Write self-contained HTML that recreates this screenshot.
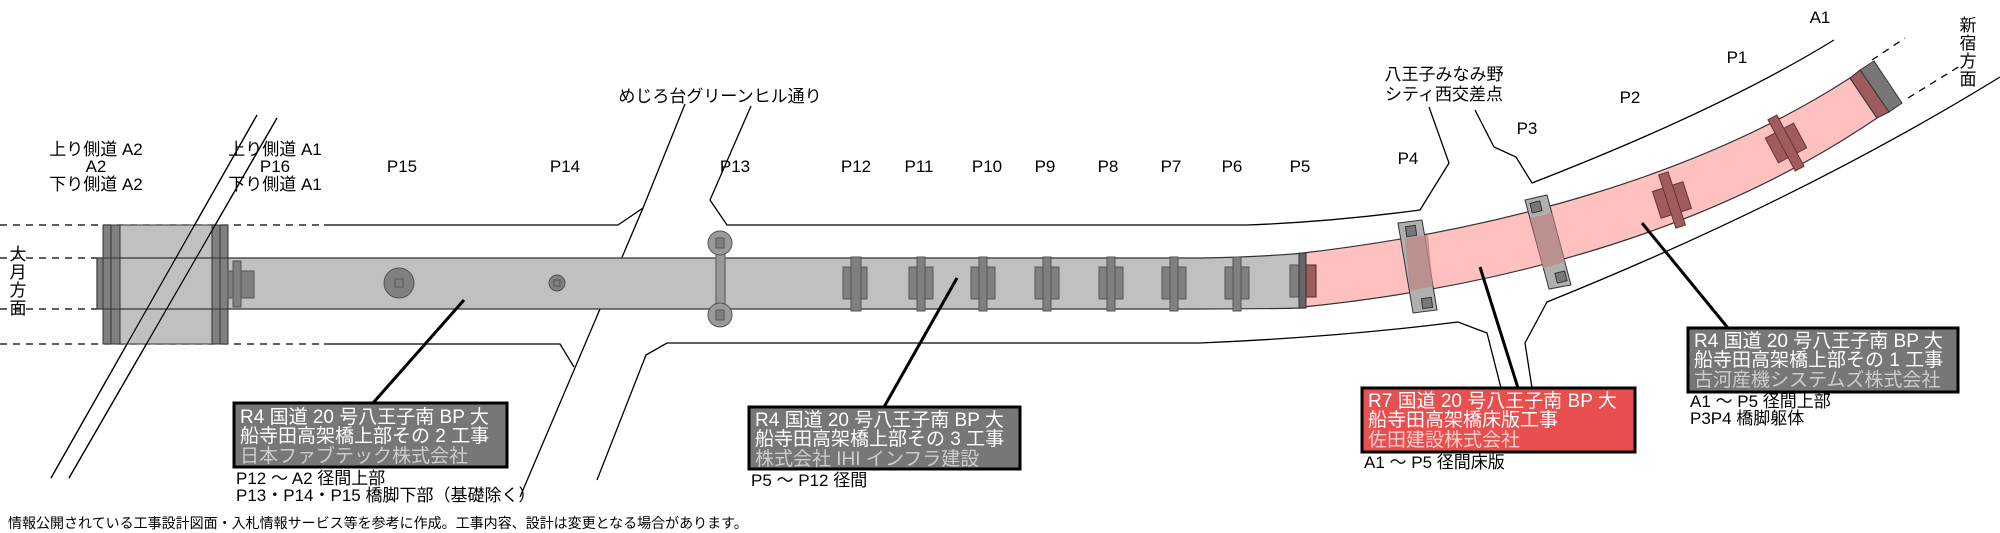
<!DOCTYPE html>
<html><head><meta charset="utf-8"><style>
html,body{margin:0;padding:0;background:#fff;}
svg{display:block;font-family:"Liberation Sans","Noto Sans CJK JP",sans-serif;}
</style></head><body>
<svg width="2000" height="533" viewBox="0 0 2000 533" xmlns="http://www.w3.org/2000/svg">
<g fill="none" stroke="#000" stroke-width="1.3">
<g stroke-dasharray="7,6">
<line x1="0" y1="225" x2="324" y2="225"/><line x1="0" y1="344" x2="324" y2="344"/>
<line x1="0" y1="258" x2="97" y2="258"/><line x1="0" y1="309" x2="97" y2="309"/>
<line x1="1872" y1="60" x2="1905" y2="38"/><line x1="1908" y1="98" x2="1960" y2="66"/>
</g>
<polyline points="324,225 618,225 643,208"/>
<polyline points="324,344 560,344 574,367"/>
<path d="M597 480 L646 355 L667 343 L1200 343 Q1340 337 1458 322 L1487 333 L1501 388"/>
<polyline points="685,104 643,208 520,497"/>
<polyline points="751,106 710,200 727,225 1150,225"/>
<path d="M1150 225 L1246 225 Q1330 222 1420 210 L1449 163 L1429 107"/>
<path d="M1475 110 L1494 147 L1516 157 L1532 183 Q1720 110 1834 40"/>
<path d="M1532 388 L1525 343 L1547 302 Q1800 200 2000 77"/>
<line x1="257" y1="115" x2="51" y2="478"/>
<line x1="277" y1="118" x2="69" y2="478"/>
</g>
<rect x="103" y="225" width="125" height="119" fill="#c0c0c0" stroke="#333" stroke-width="1"/>
<path d="M97 258 L1200 258 Q1260 257 1305 253 L1305 308 Q1260 309 1200 309 L97 309 Z" fill="#c0c0c0" stroke="#333" stroke-width="1.2"/>
<rect x="103" y="225" width="17" height="119" fill="#808080" stroke="#333"/>
<line x1="111" y1="225" x2="111" y2="344" stroke="#333"/>
<rect x="212" y="225" width="16" height="119" fill="#808080" stroke="#333"/>
<line x1="220" y1="225" x2="220" y2="344" stroke="#333"/>
<line x1="97" y1="258" x2="228" y2="258" stroke="#333"/><line x1="97" y1="309" x2="228" y2="309" stroke="#333"/>
<rect x="97" y="258" width="6" height="51" fill="#808080" stroke="#333"/>
<line x1="257" y1="115" x2="51" y2="478" stroke="#000" stroke-width="1.2"/>
<line x1="277" y1="118" x2="69" y2="478" stroke="#000" stroke-width="1.2"/>
<g fill="#808080" stroke="#555">
<rect x="228" y="271" width="26" height="27"/><rect x="233" y="261" width="8" height="46"/>
<circle cx="399" cy="283" r="15"/><rect x="395" y="279" width="8" height="8"/>
<circle cx="557" cy="283" r="8"/><rect x="554" y="280" width="6" height="6"/>
<rect x="716" y="243" width="9" height="72" fill="#999"/>
<circle cx="720" cy="243" r="12" fill="#999"/><rect x="716" y="238" width="8" height="10"/>
<circle cx="720" cy="315" r="12" fill="#999"/><rect x="716" y="310" width="8" height="10"/>
<rect x="843" y="267" width="24" height="32"/><rect x="851" y="257" width="10" height="54"/>
<rect x="909" y="267" width="24" height="32"/><rect x="917" y="257" width="8" height="54"/>
<rect x="971" y="267" width="24" height="32"/><rect x="979" y="257" width="8" height="54"/>
<rect x="1035" y="267" width="24" height="32"/><rect x="1043" y="257" width="8" height="54"/>
<rect x="1099" y="267" width="24" height="32"/><rect x="1107" y="257" width="8" height="54"/>
<rect x="1162" y="267" width="24" height="32"/><rect x="1170" y="257" width="8" height="54"/>
<rect x="1225" y="267" width="24" height="32"/><rect x="1233" y="257" width="8" height="54"/>
<rect x="1290" y="265" width="9" height="32"/>
</g>
<path d="M1303 253 C1500 230 1700 175 1850 78 L1877 118 C1720 225 1520 285 1303 307 Z" fill="#ffc0c0" stroke="#333" stroke-width="1.2"/>
<polygon points="1860,70 1874,61 1902,103 1889,112" fill="#777" stroke="#333"/>
<polygon points="1850,78 1860,70 1889,112 1877,118" fill="#a05c5c" stroke="#333"/>
<rect x="1299" y="253" width="7" height="55" fill="#666" stroke="#333"/>
<rect x="1306" y="265" width="10" height="32" fill="#a05c5c" stroke="#333"/>
<polygon points="1398,223 1422,220 1437,310 1413,313" fill="#b0b0b0" stroke="#333"/>
<polygon points="1405,238 1428,235 1433,286 1410,291" fill="#c08888" stroke="none" opacity="0.8"/>
<rect x="1406" y="226" width="10" height="10" fill="#777" stroke="#333" transform="rotate(-8 1411 231)"/>
<rect x="1422" y="298" width="10" height="10" fill="#777" stroke="#333" transform="rotate(-8 1427 303)"/>
<polygon points="1525,200 1547,195 1571,285 1549,289" fill="#b0b0b0" stroke="#333"/>
<polygon points="1530,218 1552,213 1565,262 1543,268" fill="#c08888" opacity="0.8"/>
<rect x="1531" y="202" width="10" height="10" fill="#777" stroke="#333" transform="rotate(-14 1536 207)"/>
<rect x="1556" y="272" width="10" height="10" fill="#777" stroke="#333" transform="rotate(-14 1561 277)"/>
<g transform="rotate(-18 1672 200)" fill="#a05c5c" stroke="#633">
<rect x="1656" y="186" width="32" height="28"/><rect x="1667" y="172" width="10" height="56"/>
</g>
<g transform="rotate(-28 1786 143)" fill="#a05c5c" stroke="#633">
<rect x="1770" y="129" width="32" height="28"/><rect x="1781" y="114" width="10" height="58"/>
</g>
<g stroke="#000" stroke-width="3">
<line x1="464" y1="300" x2="373" y2="403"/>
<line x1="957" y1="278" x2="884" y2="407"/>
<line x1="1480" y1="267" x2="1518" y2="388"/>
<line x1="1642" y1="223" x2="1728" y2="328"/>
</g>
<g font-size="19">
<rect x="234" y="403" width="273" height="64" fill="#777" stroke="#000" stroke-width="3"/>
<text x="240" y="423" fill="#fff">R4 国道 20 号八王子南 BP 大</text>
<text x="240" y="442" fill="#fff">船寺田高架橋上部その 2 工事</text>
<text x="240" y="462" fill="#ccc">日本ファブテック株式会社</text>
<rect x="749" y="407" width="271" height="62" fill="#777" stroke="#000" stroke-width="3"/>
<text x="755" y="426" fill="#fff">R4 国道 20 号八王子南 BP 大</text>
<text x="755" y="445" fill="#fff">船寺田高架橋上部その 3 工事</text>
<text x="755" y="465" fill="#ccc">株式会社 IHI インフラ建設</text>
<rect x="1362" y="388" width="273" height="64" fill="#e85050" stroke="#000" stroke-width="3"/>
<text x="1368" y="407" fill="#fff">R7 国道 20 号八王子南 BP 大</text>
<text x="1368" y="426" fill="#fff">船寺田高架橋床版工事</text>
<text x="1368" y="446" fill="#fcc">佐田建設株式会社</text>
<rect x="1688" y="328" width="270" height="64" fill="#777" stroke="#000" stroke-width="3"/>
<text x="1694" y="347" fill="#fff">R4 国道 20 号八王子南 BP 大</text>
<text x="1694" y="366" fill="#fff">船寺田高架橋上部その 1 工事</text>
<text x="1694" y="386" fill="#ccc">古河産機システムズ株式会社</text>
</g>
<g font-size="17" fill="#000">
<text x="236" y="484">P12 ～ A2 径間上部</text>
<text x="236" y="501">P13・P14・P15 橋脚下部（基礎除く）</text>
<text x="751" y="486">P5 ～ P12 径間</text>
<text x="1364" y="468">A1 ～ P5 径間床版</text>
<text x="1690" y="407">A1 ～ P5 径間上部</text>
<text x="1690" y="424">P3P4 橋脚躯体</text>
</g>
<g font-size="17" text-anchor="middle" fill="#000">
<text x="96" y="155">上り側道 A2</text><text x="96" y="172">A2</text><text x="96" y="190">下り側道 A2</text>
<text x="275" y="155">上り側道 A1</text><text x="275" y="172">P16</text><text x="275" y="190">下り側道 A1</text>
<text x="402" y="172">P15</text><text x="565" y="172">P14</text><text x="735" y="172">P13</text>
<text x="856" y="172">P12</text><text x="919" y="172">P11</text><text x="987" y="172">P10</text>
<text x="1045" y="172">P9</text><text x="1108" y="172">P8</text><text x="1171" y="172">P7</text>
<text x="1232" y="172">P6</text><text x="1300" y="172">P5</text>
<text x="1408" y="164">P4</text><text x="1527" y="134">P3</text><text x="1630" y="103">P2</text>
<text x="1737" y="63">P1</text><text x="1820" y="23">A1</text>
<text x="720" y="102">めじろ台グリーンヒル通り</text>
<text x="1444" y="80">八王子みなみ野</text><text x="1444" y="100">シティ西交差点</text>
</g>
<g font-size="17" text-anchor="middle" fill="#000">
<text x="18" y="260">大</text><text x="18" y="278">月</text><text x="18" y="296">方</text><text x="18" y="314">面</text>
<text x="1968" y="31">新</text><text x="1968" y="49">宿</text><text x="1968" y="67">方</text><text x="1968" y="85">面</text>
</g>
<text x="8" y="528" font-size="14" fill="#000">情報公開されている工事設計図面・入札情報サービス等を参考に作成。工事内容、設計は変更となる場合があります。</text>
</svg>
</body></html>
